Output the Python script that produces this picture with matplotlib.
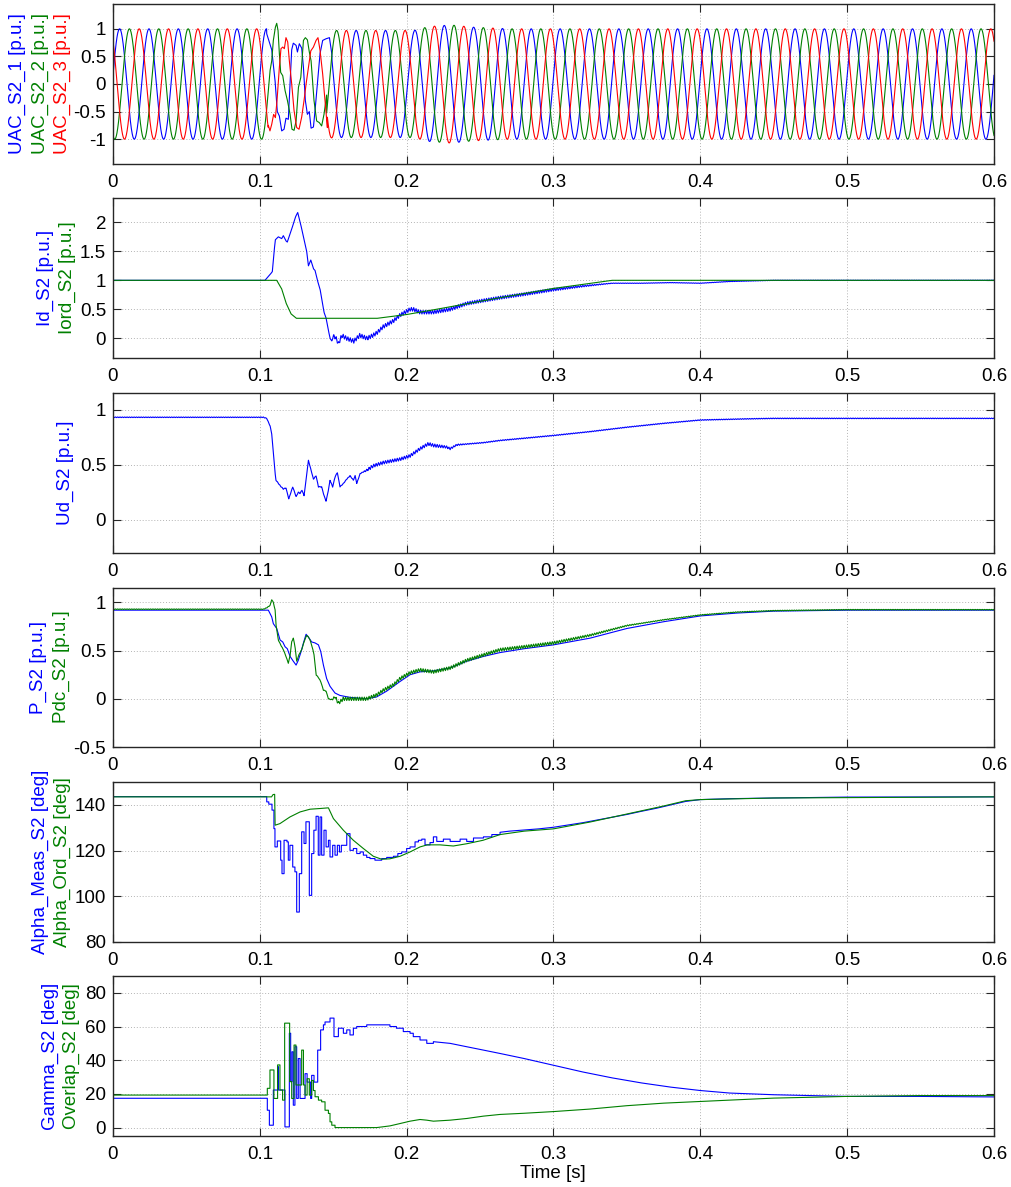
import numpy as np
import matplotlib
matplotlib.use("Agg")
import matplotlib.pyplot as plt

plt.rcParams['font.family'] = ['Liberation Sans', 'DejaVu Sans']

BLUE = (0, 0, 1)
GREEN = (0, 0.5, 0)
RED = (1, 0, 0)

# ---------------- Panel 1 : three-phase AC voltage ----------------
F_HZ = 50.0
PEAK_T = [0.0045, 0.01117, 0.01783]          # first peak time of phases 1..3
AMP_T = [0.0, 0.145, 0.15, 0.205, 0.215, 0.23, 0.245, 0.27, 0.6]
AMP_V = [1.0, 1.0, 0.97, 0.97, 1.04, 1.07, 1.03, 1.0, 1.0]
DELAY_T = [0.0, 0.144, 0.1445, 0.25, 0.30, 0.6]
DELAY_V = [0.0, 0.0, 0.0011, 0.0011, 0.0, 0.0]

U1_FAULT_T = [0.1047, 0.1081, 0.1104, 0.1119, 0.1133, 0.1149, 0.1165, 0.1178, 0.1194, 0.1206,
              0.1217, 0.1228, 0.1247, 0.1256, 0.1269, 0.1285, 0.1297, 0.1310, 0.1324, 0.1337,
              0.1349, 0.1365, 0.1376, 0.1392, 0.1410, 0.1428, 0.1451, 0.1474, 0.1490]
U1_FAULT_V = [0.91, 0.62, 0.05, -0.50, -0.58, -0.85, -0.82, -0.62, -0.64, 0.0,
              0.62, 0.74, 0.70, 0.58, 0.73, 0.65, 0.30, -0.30, -0.55, -0.50,
              -0.80, -0.78, -0.48, 0.0, 0.55, 0.79, 0.82, 0.84, 0.55]
U2_FAULT_T = [0.1070, 0.1081, 0.1092, 0.1106, 0.1115, 0.1124, 0.1133, 0.1142, 0.1156, 0.1172,
              0.1188, 0.1206, 0.1219, 0.1233, 0.1247, 0.1263, 0.1279, 0.1297, 0.1310, 0.1324,
              0.1337, 0.1349, 0.1369, 0.1387, 0.1405, 0.1421, 0.1437, 0.1455]
U2_FAULT_V = [0.25, 0.42, 0.79, 1.03, 1.10, 0.97, 0.55, 0.21, 0.15, -0.12,
              -0.30, -0.55, -0.82, -0.84, -0.67, -0.06, 0.12, 0.79, 0.84, 0.80,
              0.58, 0.42, -0.30, -0.67, -0.70, -0.76, -0.55, -0.20]
U3_FAULT_T = [0.1058, 0.1069, 0.1081, 0.1094, 0.1106, 0.1117, 0.1133, 0.1144, 0.1156, 0.1167,
              0.1178, 0.1190, 0.1201, 0.1217, 0.1233, 0.1251, 0.1267, 0.1285, 0.1301, 0.1315,
              0.1331, 0.1347, 0.1365, 0.1383, 0.1396, 0.1410, 0.1428, 0.1444, 0.1460]
U3_FAULT_V = [-0.75, -0.85, -0.73, -0.55, -0.61, -0.30, 0.30, 0.64, 0.67, 0.64,
              0.84, 0.76, 0.42, 0.0, -0.48, -0.79, -0.82, -0.60, -0.30, 0.0,
              0.30, 0.60, 0.67, 0.79, 0.84, 0.61, 0.18, -0.30, -0.79]

# ---------------- Panel 2 : Id / Iord ----------------
ID_T = [0, 0.100, 0.1035, 0.107, 0.1085, 0.1097, 0.1106, 0.1126, 0.1149, 0.1160, 0.1178, 0.1187,
        0.1206, 0.1228, 0.1244, 0.1258, 0.1265, 0.1278, 0.1301, 0.1319, 0.1331, 0.1347, 0.1365,
        0.1376, 0.1392, 0.1410, 0.1424, 0.1437, 0.1451, 0.1462, 0.1478, 0.1490, 0.1501, 0.1524,
        0.1535, 0.1558, 0.159, 0.164, 0.168, 0.173, 0.177, 0.180, 0.184, 0.191, 0.1955, 0.199,
        0.2023, 0.2046, 0.209, 0.218, 0.2296, 0.2409, 0.252, 0.2636, 0.28, 0.30, 0.32, 0.34,
        0.36, 0.38, 0.40, 0.42, 0.45, 0.6]
ID_V = [1.0, 1.0, 1.0, 1.1, 1.15, 1.5, 1.7, 1.75, 1.72, 1.77, 1.68, 1.66,
        1.8, 1.97, 2.1, 2.17, 2.1, 1.97, 1.7, 1.5, 1.25, 1.35, 1.2,
        1.17, 1.0, 0.85, 0.65, 0.45, 0.35, 0.2, 0.0, -0.05, 0.05, -0.02,
        -0.1, 0.05, 0.0, -0.05, 0.05, 0.0, 0.05, 0.1, 0.2, 0.3, 0.4, 0.45,
        0.5, 0.5, 0.45, 0.45, 0.5, 0.6, 0.65, 0.7, 0.76, 0.84, 0.9, 0.95,
        0.95, 0.96, 0.95, 0.98, 1.0, 1.0]
ID_RIP_T = [0.0, 0.148, 0.152, 0.30, 0.34, 0.6]
ID_RIP_V = [0.0, 0.0, 0.035, 0.025, 0.004, 0.004]
IORD_T = [0, 0.1115, 0.1149, 0.118, 0.1213, 0.1249, 0.18, 0.2, 0.218, 0.2636, 0.30, 0.34, 0.6]
IORD_V = [1.0, 1.0, 0.85, 0.6, 0.42, 0.345, 0.345, 0.41, 0.49, 0.70, 0.86, 1.0, 1.0]

# ---------------- Panel 3 : Ud ----------------
UD_T = [0, 0.1024, 0.1047, 0.107, 0.1081, 0.1092, 0.1104, 0.1110, 0.1138, 0.1160, 0.1178, 0.1197,
        0.1224, 0.1247, 0.1262, 0.1274, 0.1287, 0.1301, 0.1315, 0.1331, 0.1347, 0.1365, 0.1383,
        0.1399, 0.1421, 0.1437, 0.1451, 0.1467, 0.1478, 0.1496, 0.1512, 0.1528, 0.1546, 0.1569,
        0.1592, 0.1614, 0.1637, 0.1649, 0.1660, 0.1683, 0.1728, 0.1773, 0.1842, 0.1955, 0.2023,
        0.2091, 0.2148, 0.2182, 0.2273, 0.2296, 0.2341, 0.2523, 0.2636, 0.28, 0.30, 0.325, 0.35,
        0.375, 0.40, 0.43, 0.45, 0.6]
UD_V = [0.93, 0.93, 0.92, 0.85, 0.78, 0.60, 0.42, 0.36, 0.31, 0.28, 0.29, 0.19,
        0.30, 0.21, 0.25, 0.24, 0.27, 0.22, 0.36, 0.54, 0.46, 0.37, 0.40,
        0.30, 0.30, 0.22, 0.17, 0.27, 0.36, 0.30, 0.39, 0.43, 0.30, 0.33,
        0.37, 0.40, 0.36, 0.40, 0.33, 0.42, 0.45, 0.49, 0.52, 0.55, 0.58,
        0.645, 0.69, 0.675, 0.66, 0.645, 0.68, 0.70, 0.72, 0.74, 0.765, 0.80, 0.84,
        0.875, 0.905, 0.915, 0.92, 0.92]
UD_RIP_T = [0.0, 0.17, 0.175, 0.22, 0.24, 0.6]
UD_RIP_V = [0.003, 0.003, 0.014, 0.014, 0.004, 0.003]

# ---------------- Panel 4 : P / Pdc ----------------
P_T = [0, 0.1058, 0.1081, 0.1092, 0.1115, 0.1138, 0.1156, 0.1172, 0.1187, 0.1206, 0.1228, 0.1247,
       0.1262, 0.1281, 0.1297, 0.1315, 0.1331, 0.1353, 0.1376, 0.1399, 0.1415, 0.1433, 0.1455,
       0.1478, 0.1512, 0.1546, 0.1614, 0.1728, 0.1796, 0.1864, 0.1955, 0.2023, 0.2091, 0.2182,
       0.2296, 0.2409, 0.2523, 0.2636, 0.28, 0.30, 0.325, 0.35, 0.375, 0.40, 0.425, 0.45, 0.5, 0.6]
P_V = [0.92, 0.92, 0.85, 0.78, 0.73, 0.61, 0.59, 0.54, 0.52, 0.44, 0.39, 0.35,
       0.40, 0.49, 0.58, 0.67, 0.64, 0.59, 0.58, 0.56, 0.49, 0.35, 0.21,
       0.13, 0.06, 0.035, 0.015, 0.0, 0.02, 0.08, 0.18, 0.25, 0.28, 0.29,
       0.32, 0.39, 0.44, 0.48, 0.52, 0.56, 0.63, 0.73, 0.80, 0.86, 0.89, 0.91, 0.92, 0.92]
PDC_T = [0, 0.1024, 0.1047, 0.1070, 0.1081, 0.1092, 0.1104, 0.1110, 0.1126, 0.1142, 0.1160, 0.1178,
         0.1194, 0.1206, 0.1217, 0.1228, 0.1240, 0.1251, 0.1267, 0.1285, 0.1301, 0.1319, 0.1337,
         0.1353, 0.1369, 0.1383, 0.1399, 0.1415, 0.1433, 0.1451, 0.1467, 0.1490, 0.1512, 0.1535,
         0.1569, 0.1637, 0.1728, 0.1796, 0.1842, 0.1910, 0.1955, 0.2023, 0.2091, 0.2182, 0.2296,
         0.2409, 0.2523, 0.2636, 0.28, 0.30, 0.325, 0.35, 0.375, 0.40, 0.425, 0.45, 0.5, 0.6]
PDC_V = [0.93, 0.93, 0.945, 0.97, 1.03, 1.0, 0.92, 0.77, 0.61, 0.56, 0.51, 0.44,
         0.37, 0.45, 0.59, 0.63, 0.54, 0.39, 0.46, 0.51, 0.59, 0.66, 0.63,
         0.56, 0.46, 0.25, 0.22, 0.18, 0.09, 0.08, 0.0, -0.01, 0.02, -0.045,
         0.0, 0.0, 0.0, 0.04, 0.09, 0.145, 0.21, 0.27, 0.30, 0.28, 0.32,
         0.40, 0.455, 0.51, 0.54, 0.58, 0.66, 0.76, 0.82, 0.87, 0.90, 0.915, 0.925, 0.925]
PDC_RIP_T = [0.0, 0.148, 0.152, 0.30, 0.36, 0.6]
PDC_RIP_V = [0.003, 0.003, 0.018, 0.015, 0.004, 0.003]

# ---------------- Panel 5 : alpha ----------------
ALPHA_T = [0, 0.1047, 0.1061, 0.1083, 0.1096, 0.1103, 0.1119, 0.1142, 0.1151, 0.1165, 0.1185, 0.1194,
           0.1205, 0.1224, 0.1239, 0.1251, 0.1269, 0.1285, 0.1301, 0.1314, 0.1337, 0.1353, 0.1368,
           0.1383, 0.1398, 0.1410, 0.1421, 0.1437, 0.1451, 0.1467, 0.1478, 0.1496, 0.1512, 0.1528,
           0.1542, 0.1555, 0.1592, 0.1614, 0.1637, 0.1660, 0.1683, 0.1705, 0.1728, 0.1750, 0.1784,
           0.1830, 0.1864, 0.1910, 0.1940, 0.1966, 0.2000, 0.2023, 0.2057, 0.2080, 0.2103, 0.2125,
           0.2159, 0.2182, 0.2205, 0.2250, 0.2296, 0.2364, 0.2409, 0.2455, 0.2523, 0.2580, 0.2636,
           0.27, 0.28, 0.29, 0.30, 0.31, 0.32, 0.33, 0.34, 0.35, 0.36, 0.37, 0.38, 0.39, 0.40,
           0.42, 0.45, 0.50, 0.6]
ALPHA_V = [143.6, 141.3, 140.3, 137.7, 129.6, 121.6, 124.2, 115.8, 109.9, 124.5, 123.8, 115.8,
           122.3, 112.8, 110.7, 93.1, 109.9, 128.2, 123.1, 132.6, 100.4, 118.7, 128.9,
           135.0, 118.0, 134.7, 118.0, 128.9, 121.6, 124.5, 117.2, 122.3, 118.0, 122.3,
           119.4, 122.3, 127.4, 120.1, 120.9, 118.7, 119.4, 118.0, 117.0, 116.5, 115.8,
           116.5, 117.0, 117.5, 118.7, 119.4, 120.9, 121.6, 123.8, 124.5, 125.0, 122.5,
           123.5, 126.0, 124.0, 125.0, 124.0, 125.0, 124.0, 125.5, 126.0, 127.0, 128.0,
           128.5, 129.0, 129.5, 130.2, 131.2, 132.2, 133.4, 134.6, 135.8, 137.2, 138.5, 140.0, 141.5, 142.3,
           142.7, 143.0, 143.4, 143.5]
ALPHA_STEP_END = 0.2636
ALPHAO_T = [0, 0.108, 0.109, 0.1101, 0.1104, 0.1137, 0.1205, 0.1274, 0.1342, 0.141, 0.1467, 0.1501,
            0.1569, 0.1637, 0.1705, 0.1773, 0.183, 0.1886, 0.1955, 0.2023, 0.2091, 0.214, 0.2227,
            0.2318, 0.241, 0.252, 0.2636, 0.28, 0.30, 0.325, 0.35, 0.375, 0.39, 0.40, 0.45, 0.6]
ALPHAO_V = [143.5, 143.5, 144.5, 144.6, 131.1, 131.8, 134.7, 136.9, 138.1, 138.4, 138.7, 134.0,
            128.9, 124.5, 120.9, 117.5, 116.2, 116.4, 117.5, 119.4, 121.6, 122.5, 122.5,
            122.0, 123.0, 124.5, 127.0, 128.5, 129.5, 132.5, 136.0, 139.5, 141.8, 142.3, 143.0, 143.5]

# ---------------- Panel 6 : gamma / overlap ----------------
GAMMA_T = [0, 0.1051, 0.1065, 0.1092, 0.1121, 0.1126, 0.1133, 0.1171, 0.1201, 0.1210, 0.1219,
           0.1228, 0.1239, 0.1251, 0.1262, 0.1274, 0.1308, 0.1322, 0.1346, 0.1353, 0.1369,
           0.1394, 0.1414, 0.1433, 0.1444, 0.1478, 0.1505, 0.1535, 0.1569, 0.1592, 0.1614, 0.1637,
           0.1660, 0.1728, 0.1796, 0.1886, 0.1930, 0.1977, 0.2023, 0.2045, 0.2091, 0.2137, 0.2182,
           0.2296, 0.2409, 0.2523, 0.2636, 0.28, 0.30, 0.32, 0.34, 0.36, 0.38, 0.40, 0.42, 0.45,
           0.50, 0.55, 0.6]
GAMMA_V = [17.4, 10.3, 1.4, 22.3, 36.2, 22.3, 22.3, 0.4, 56.0, 27.3, 45.0,
           13.3, 48.0, 17.3, 41.0, 17.3, 32.0, 27.0, 17.3, 31.0, 27.0,
           46.0, 58.0, 61.0, 62.7, 65.0, 54.0, 59.0, 56.0, 58.0, 55.0, 59.0,
           60.0, 61.0, 61.0, 60.0, 59.0, 57.0, 56.0, 54.0, 52.0, 50.0, 51.0,
           50.0, 48.0, 46.0, 44.0, 41.0, 37.0, 33.0, 29.5, 26.5, 24.0, 22.0, 20.5, 19.5,
           18.5, 18.5, 18.2]
GAMMA_STEP_END = 0.2182
OVL_T = [0, 0.1051, 0.1069, 0.1096, 0.1121, 0.1137, 0.1155, 0.1169, 0.1203, 0.1217, 0.1233,
         0.1246, 0.1274, 0.1285, 0.1297, 0.1308, 0.1322, 0.1337, 0.1353, 0.1365, 0.1376, 0.1399,
         0.1421, 0.1444, 0.1467, 0.1478, 0.1490, 0.1512, 0.1796, 0.1886, 0.1955, 0.2023, 0.2091,
         0.2137, 0.2182, 0.2296, 0.2409, 0.2523, 0.2636, 0.28, 0.30, 0.325, 0.35, 0.375, 0.40,
         0.425, 0.45, 0.50, 0.55, 0.6]
OVL_V = [19.3, 23.3, 34.2, 17.3, 37.2, 22.3, 16.3, 62.0, 27.3, 17.3, 49.0,
         25.3, 25.3, 46.0, 25.3, 19.3, 29.0, 19.3, 28.0, 22.0, 18.3, 16.3,
         15.3, 10.3, 8.4, 3.4, 1.4, 0.0, 0.0, 1.0, 2.4, 3.8, 4.8,
         4.4, 3.8, 4.4, 5.4, 6.8, 7.8, 8.5, 9.5, 11.0, 13.0, 14.5, 15.5,
         16.5, 17.5, 18.5, 19.0, 19.0]
OVL_STEP_END = 0.1512

# ---------------- helpers ----------------
T_FINE = np.arange(0.0, 0.6 + 1e-9, 0.0001)
RIP_HALF = 0.0008


def with_ripple(tk, vk, rt, rv):
    base = np.interp(T_FINE, tk, vk)
    amp = np.interp(T_FINE, rt, rv)
    knots = np.arange(0.0, 0.6 + RIP_HALF, RIP_HALF)
    pattern = np.interp(T_FINE, knots, np.where(np.arange(len(knots)) % 2 == 0, 1.0, -1.0))
    return base + amp * pattern


def ac_phase(k, ft, fv):
    amp = np.interp(T_FINE, AMP_T, AMP_V)
    dly = np.interp(T_FINE, DELAY_T, DELAY_V)
    base = amp * np.cos(2 * np.pi * F_HZ * (T_FINE - PEAK_T[k] - dly))
    mask = (T_FINE < ft[0]) | (T_FINE > ft[-1])
    tt = np.concatenate([T_FINE[mask], ft])
    vv = np.concatenate([base[mask], fv])
    o = np.argsort(tt, kind='stable')
    return tt[o], vv[o]


def stairs_then_line(tk, vk, t_end):
    """Sample-and-hold path up to t_end, straight segments afterwards."""
    xs, ys = [], []
    for i, (t, v) in enumerate(zip(tk, vk)):
        if i > 0 and t <= t_end:
            xs.append(t)
            ys.append(vk[i - 1])
        xs.append(t)
        ys.append(v)
    return xs, ys


W, H = 1012, 1187
fig = plt.figure(figsize=(W / 100, H / 100), dpi=100)

LEFT, RIGHT = 113, 994
panels = [(4, 164), (198, 358), (393, 553), (588, 747), (782, 942), (976, 1136)]
axes = []
for top, bot in panels:
    ax = fig.add_axes([LEFT / W, 1 - bot / H, (RIGHT - LEFT) / W, (bot - top) / H])
    axes.append(ax)

LW = 0.8
FS = 13.5

# Panel 1
ax = axes[0]
for k, (ft, fv, col) in enumerate([(U1_FAULT_T, U1_FAULT_V, BLUE),
                                   (U2_FAULT_T, U2_FAULT_V, GREEN),
                                   (U3_FAULT_T, U3_FAULT_V, RED)]):
    tt, vv = ac_phase(k, np.array(ft), np.array(fv))
    ax.plot(tt, vv, color=col, lw=LW)
ax.set_ylim(-1.45, 1.45)
ax.set_yticks([-1, -0.5, 0, 0.5, 1], ['-1', '-0.5', '0', '0.5', '1'])

# Panel 2
ax = axes[1]
ax.plot(T_FINE, with_ripple(ID_T, ID_V, ID_RIP_T, ID_RIP_V), color=BLUE, lw=LW)
ax.plot(IORD_T, IORD_V, color=GREEN, lw=LW)
ax.set_ylim(-0.34, 2.42)
ax.set_yticks([0, 0.5, 1, 1.5, 2], ['0', '0.5', '1', '1.5', '2'])

# Panel 3
ax = axes[2]
ax.plot(T_FINE, with_ripple(UD_T, UD_V, UD_RIP_T, UD_RIP_V), color=BLUE, lw=LW)
ax.set_ylim(-0.3, 1.15)
ax.set_yticks([0, 0.5, 1], ['0', '0.5', '1'])

# Panel 4
ax = axes[3]
ax.plot(P_T, P_V, color=BLUE, lw=LW)
ax.plot(T_FINE, with_ripple(PDC_T, PDC_V, PDC_RIP_T, PDC_RIP_V), color=GREEN, lw=LW)
ax.set_ylim(-0.5, 1.15)
ax.set_yticks([-0.5, 0, 0.5, 1], ['-0.5', '0', '0.5', '1'])

# Panel 5
ax = axes[4]
ax.plot(*stairs_then_line(ALPHA_T, ALPHA_V, ALPHA_STEP_END), color=BLUE, lw=LW)
ax.plot(ALPHAO_T, ALPHAO_V, color=GREEN, lw=LW)
ax.set_ylim(80, 150)
ax.set_yticks([80, 100, 120, 140], ['80', '100', '120', '140'])

# Panel 6
ax = axes[5]
ax.plot(*stairs_then_line(GAMMA_T, GAMMA_V, GAMMA_STEP_END), color=BLUE, lw=LW)
ax.plot(*stairs_then_line(OVL_T, OVL_V, OVL_STEP_END), color=GREEN, lw=LW)
ax.set_ylim(-5, 90)
ax.set_yticks([0, 20, 40, 60, 80], ['0', '20', '40', '60', '80'])

XT = [0, 0.1, 0.2, 0.3, 0.4, 0.5, 0.6]
XL = ['0', '0.1', '0.2', '0.3', '0.4', '0.5', '0.6']
for ax in axes:
    ax.set_xlim(0, 0.6)
    ax.set_xticks(XT, XL)
    ax.grid(True, color='#b4b4b4', linestyle=(0, (1, 2)), linewidth=0.7)
    ax.set_axisbelow(True)
    ax.tick_params(direction='in', top=True, right=True, length=6, width=0.8,
                   color='#262626', labelsize=FS, labelcolor='black', pad=5)
    ax.tick_params(axis='x', pad=7)
    for s in ax.spines.values():
        s.set_color('#262626')
        s.set_linewidth(1.0)

# y labels (stacked, coloured)
labels = [
    (84, [(17, 'UAC_S2_1 [p.u.]', BLUE), (40, 'UAC_S2_2 [p.u.]', GREEN), (62, 'UAC_S2_3 [p.u.]', RED)]),
    (278, [(45, 'Id_S2 [p.u.]', BLUE), (67, 'Iord_S2 [p.u.]', GREEN)]),
    (473, [(65, 'Ud_S2 [p.u.]', BLUE)]),
    (667, [(38, 'P_S2 [p.u.]', BLUE), (61, 'Pdc_S2 [p.u.]', GREEN)]),
    (862, [(40, 'Alpha_Meas_S2 [deg]', BLUE), (62, 'Alpha_Ord_S2 [deg]', GREEN)]),
    (1056, [(50, 'Gamma_S2 [deg]', BLUE), (71, 'Overlap_S2 [deg]', GREEN)]),
]
for yc, items in labels:
    for xc, txt, col in items:
        fig.text(xc / W, 1 - yc / H, txt, rotation=90, ha='center', va='center',
                 color=col, fontsize=FS)

fig.text(553 / W, 1 - 1173 / H, 'Time [s]', ha='center', va='center', fontsize=FS)

fig.savefig('out.png', dpi=100)
